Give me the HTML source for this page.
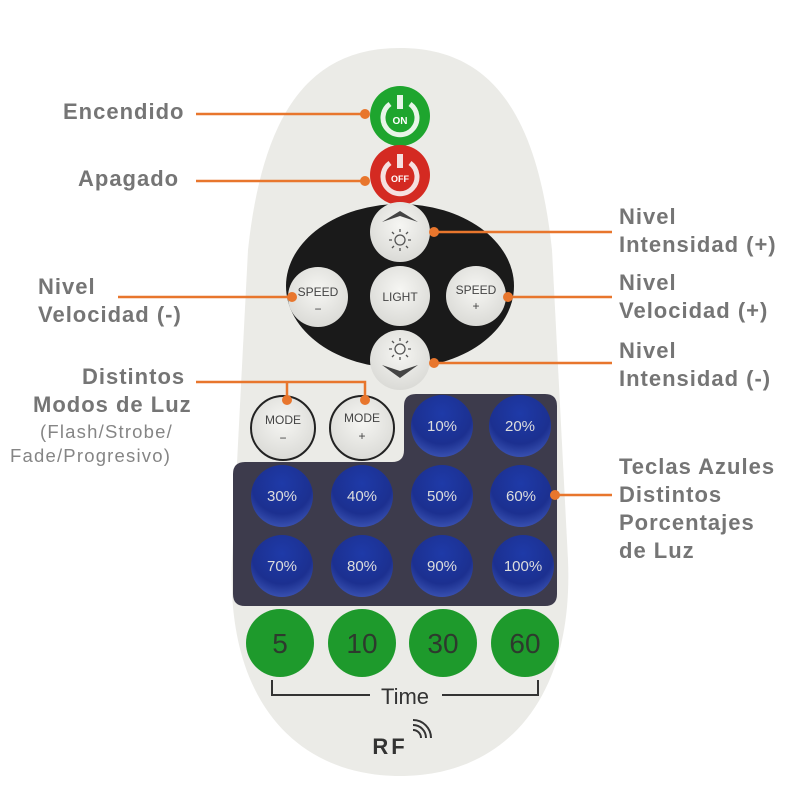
<!DOCTYPE html>
<html><head><meta charset="utf-8"><style>
body{margin:0;background:#fff;width:800px;height:800px;overflow:hidden}
svg{display:block}
.l{font-family:"Liberation Sans",sans-serif;font-weight:bold;font-size:22px;fill:#757575;letter-spacing:1px}
.s{font-family:"Liberation Sans",sans-serif;font-size:18.5px;fill:#858585;letter-spacing:1.2px}
.b{font-family:"Liberation Sans",sans-serif;font-size:15px;fill:#ddd;text-anchor:middle}
.w{font-family:"Liberation Sans",sans-serif;font-size:12px;fill:#444;text-anchor:middle}
.g{font-family:"Liberation Sans",sans-serif;font-size:28px;fill:#2d3a2d;text-anchor:middle}
</style></head><body>
<svg width="800" height="800" viewBox="0 0 800 800">
<defs>
<radialGradient id="bl" cx="50%" cy="30%" r="70%"><stop offset="0" stop-color="#1e3aa8"/><stop offset="0.7" stop-color="#1c3090"/><stop offset="1" stop-color="#3850b0"/></radialGradient>
<radialGradient id="wh" cx="50%" cy="40%" r="65%"><stop offset="0" stop-color="#f6f6f3"/><stop offset="1" stop-color="#d8d8d4"/></radialGradient>
</defs>
<path d="M400 48 C305 48 262 120 248 250 L232 560 C226 705 300 776 400 776 C500 776 574 705 568 560 L552 250 C538 120 495 48 400 48 Z" fill="#ebebe7"/>
<circle cx="400" cy="116" r="30" fill="#1ea52e"/>
<path d="M390 104 A17 17 0 1 0 410 104" fill="none" stroke="#e8f5e8" stroke-width="5"/>
<rect x="397" y="95" width="6" height="14" fill="#e8f5e8"/>
<text x="400" y="124" font-family="Liberation Sans" font-size="10" fill="#fff" text-anchor="middle" font-weight="bold">ON</text>
<circle cx="400" cy="175" r="30" fill="#d42a22"/>
<path d="M390 163 A17 17 0 1 0 410 163" fill="none" stroke="#f5e0e0" stroke-width="5"/>
<rect x="397" y="154" width="6" height="14" fill="#f5e0e0"/>
<text x="400" y="182" font-family="Liberation Sans" font-size="9" fill="#fff" text-anchor="middle" font-weight="bold">OFF</text>
<ellipse cx="400" cy="286" rx="114" ry="82" fill="#1a1a1a"/>
<circle cx="400" cy="232" r="30" fill="url(#wh)"/>
<path d="M382 222 L400 211 L418 222 L400 216 Z" fill="#444"/>
<circle cx="400" cy="296" r="30" fill="url(#wh)"/><text x="400" y="301" class="w" font-size="13">LIGHT</text>
<circle cx="318" cy="297" r="30" fill="url(#wh)"/><text x="318" y="296" class="w">SPEED</text><text x="318" y="313" class="w" font-size="16">−</text>
<circle cx="476" cy="296" r="30" fill="url(#wh)"/><text x="476" y="294" class="w">SPEED</text><text x="476" y="310" class="w" font-size="18">+</text>
<circle cx="400" cy="360" r="30" fill="url(#wh)"/>
<path d="M382 365 L400 378 L418 365 L400 371 Z" fill="#444"/>
<g stroke="#555" stroke-width="1.3" fill="none">
<circle cx="400" cy="240" r="5"/><path d="M400 229V232M400 248V251M389 240H392M408 240H411M392 232L394 234M408 232L406 234M392 248L394 246M408 248L406 246"/>
<circle cx="400" cy="349" r="5"/><path d="M400 338V341M400 357V360M389 349H392M408 349H411M392 341L394 343M408 341L406 343M392 357L394 355M408 357L406 355"/>
</g>
<circle cx="283" cy="428" r="32" fill="url(#wh)" stroke="#222" stroke-width="2"/><text x="283" y="424" class="w">MODE</text><text x="283" y="442" class="w" font-size="16">−</text>
<circle cx="362" cy="428" r="32" fill="url(#wh)" stroke="#222" stroke-width="2"/><text x="362" y="422" class="w">MODE</text><text x="362" y="440" class="w" font-size="18">+</text>
<path d="M416 394 H545 Q557 394 557 406 V594 Q557 606 545 606 H245 Q233 606 233 594 V474 Q233 462 245 462 H392 Q404 462 404 450 V406 Q404 394 416 394 Z" fill="#3d3b4c"/>
<g>
<circle cx="442" cy="426" r="31" fill="url(#bl)"/><text x="442" y="431" class="b">10%</text>
<circle cx="520" cy="426" r="31" fill="url(#bl)"/><text x="520" y="431" class="b">20%</text>
<circle cx="282" cy="496" r="31" fill="url(#bl)"/><text x="282" y="501" class="b">30%</text>
<circle cx="362" cy="496" r="31" fill="url(#bl)"/><text x="362" y="501" class="b">40%</text>
<circle cx="442" cy="496" r="31" fill="url(#bl)"/><text x="442" y="501" class="b">50%</text>
<circle cx="521" cy="496" r="31" fill="url(#bl)"/><text x="521" y="501" class="b">60%</text>
<circle cx="282" cy="566" r="31" fill="url(#bl)"/><text x="282" y="571" class="b">70%</text>
<circle cx="362" cy="566" r="31" fill="url(#bl)"/><text x="362" y="571" class="b">80%</text>
<circle cx="442" cy="566" r="31" fill="url(#bl)"/><text x="442" y="571" class="b">90%</text>
<circle cx="523" cy="566" r="31" fill="url(#bl)"/><text x="523" y="571" class="b">100%</text>
</g>
<g fill="#1e9a2c">
<circle cx="280" cy="643" r="34"/><circle cx="362" cy="643" r="34"/><circle cx="443" cy="643" r="34"/><circle cx="525" cy="643" r="34"/>
</g>
<text x="280" y="653" class="g">5</text><text x="362" y="653" class="g">10</text><text x="443" y="653" class="g">30</text><text x="525" y="653" class="g">60</text>
<path d="M272 680 V695 H370 M442 695 H538 V680" fill="none" stroke="#333" stroke-width="2"/>
<text x="405" y="704" font-family="Liberation Sans" font-size="22" fill="#333" text-anchor="middle">Time</text>
<text x="390" y="754" font-family="Liberation Sans" font-size="22" font-weight="bold" fill="#333" text-anchor="middle" letter-spacing="3">RF</text>
<path d="M413 730 A8 8 0 0 1 421 738 M413 725 A13 13 0 0 1 426 738 M413 720 A18 18 0 0 1 431 738" fill="none" stroke="#333" stroke-width="2"/>
<g stroke="#e8762d" stroke-width="2.5" fill="none">
<path d="M196 114 H365"/><path d="M196 181 H365"/>
<path d="M433 232 H612"/><path d="M118 297 H291"/><path d="M508 297 H612"/>
<path d="M433 363 H612"/><path d="M196 382 H365 V398 M287 382 V398"/>
<path d="M556 495 H612"/>
</g>
<g fill="#e8762d">
<circle cx="365" cy="114" r="5"/><circle cx="365" cy="181" r="5"/><circle cx="434" cy="232" r="5"/>
<circle cx="292" cy="297" r="5"/><circle cx="508" cy="297" r="5"/><circle cx="434" cy="363" r="5"/>
<circle cx="287" cy="400" r="5"/><circle cx="365" cy="400" r="5"/><circle cx="555" cy="495" r="5"/>
</g>
<text x="63" y="119" class="l">Encendido</text>
<text x="78" y="186" class="l">Apagado</text>
<text x="619" y="224" class="l">Nivel</text><text x="619" y="252" class="l">Intensidad (+)</text>
<text x="38" y="294" class="l">Nivel</text><text x="38" y="322" class="l">Velocidad (-)</text>
<text x="619" y="290" class="l">Nivel</text><text x="619" y="318" class="l">Velocidad (+)</text>
<text x="619" y="358" class="l">Nivel</text><text x="619" y="386" class="l">Intensidad (-)</text>
<text x="82" y="384" class="l">Distintos</text><text x="33" y="412" class="l">Modos de Luz</text>
<text x="40" y="438" class="s">(Flash/Strobe/</text><text x="10" y="462" class="s">Fade/Progresivo)</text>
<text x="619" y="474" class="l">Teclas Azules</text><text x="619" y="502" class="l">Distintos</text>
<text x="619" y="530" class="l">Porcentajes</text><text x="619" y="558" class="l">de Luz</text>
</svg>
</body></html>
